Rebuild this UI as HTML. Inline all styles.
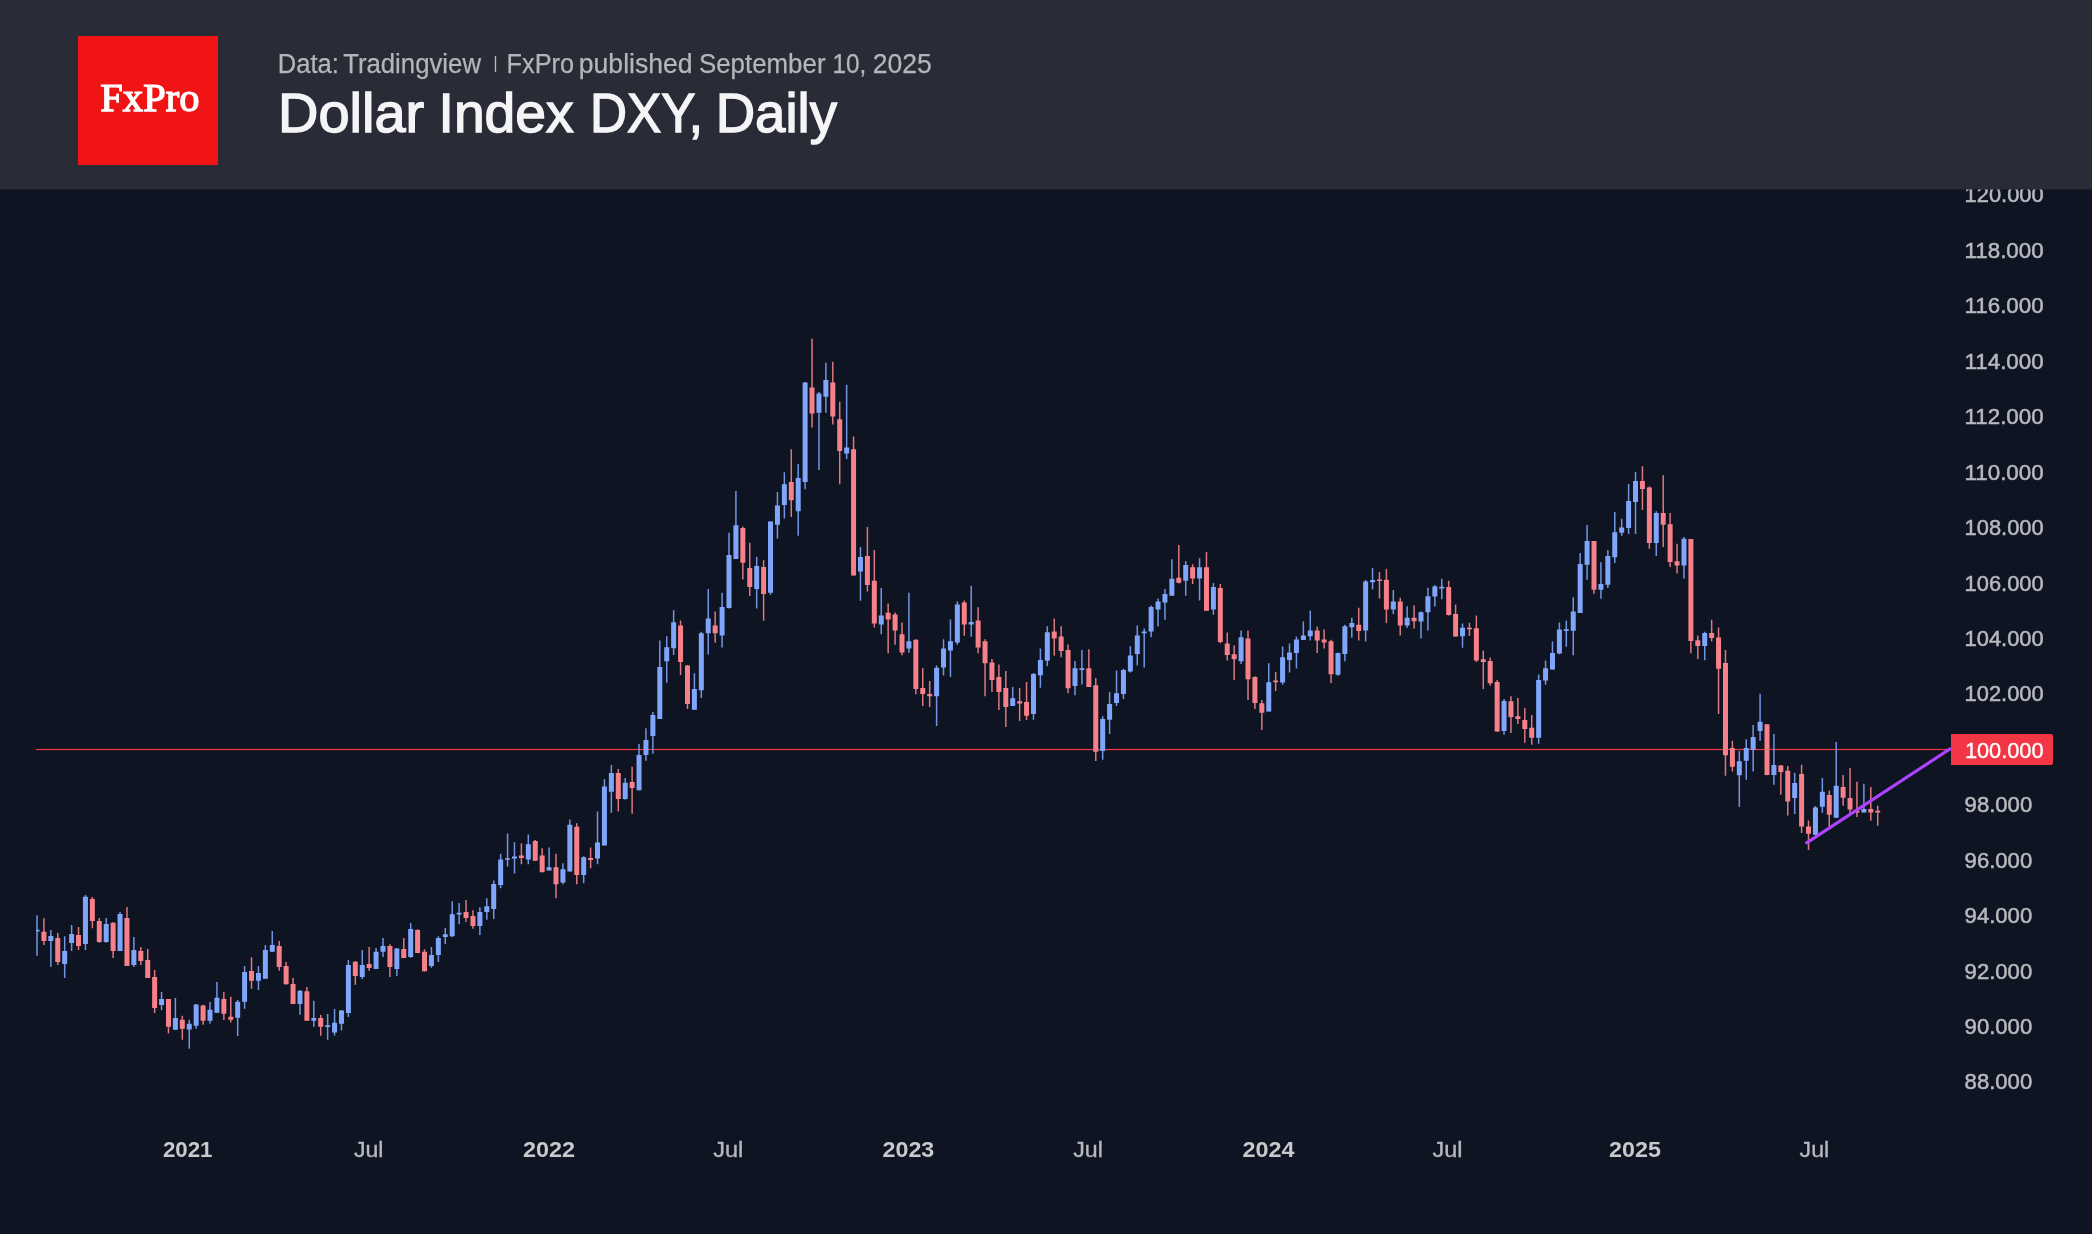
<!DOCTYPE html>
<html><head><meta charset="utf-8"><title>Dollar Index DXY, Daily</title>
<style>
html,body{margin:0;padding:0;background:#0e1421;}
body{width:2092px;height:1234px;overflow:hidden;position:relative;font-family:"Liberation Sans",sans-serif;}
svg{position:absolute;left:0;top:0;display:block;will-change:transform;}
</style></head><body>
<svg width="2092" height="1234" viewBox="0 0 2092 1234" font-family="Liberation Sans, sans-serif">
<defs><clipPath id="pane"><rect x="36" y="0" width="1915" height="1110"/></clipPath></defs>
<rect x="0" y="0" width="2092" height="1234" fill="#0e1421"/>
<g clip-path="url(#pane)">
<rect x="36" y="748.9" width="1915" height="1.2" fill="#f23645"/>
<path fill="#7195e4" d="M36.25 915.2h1.5V955.8h-1.5ZM50.09 930.0h1.5V967.1h-1.5ZM63.93 936.2h1.5V978.0h-1.5ZM70.85 925.0h1.5V951.0h-1.5ZM84.69 895.0h1.5V950.0h-1.5ZM105.45 918.0h1.5V942.7h-1.5ZM119.29 912.0h1.5V951.0h-1.5ZM133.13 937.0h1.5V967.0h-1.5ZM160.81 992.0h1.5V1010.0h-1.5ZM174.65 998.0h1.5V1029.8h-1.5ZM188.49 1019.7h1.5V1048.8h-1.5ZM195.41 1004.0h1.5V1028.7h-1.5ZM209.25 1001.9h1.5V1023.7h-1.5ZM216.17 982.0h1.5V1012.8h-1.5ZM236.93 1000.0h1.5V1036.0h-1.5ZM243.85 966.1h1.5V1008.7h-1.5ZM257.69 966.1h1.5V990.0h-1.5ZM264.61 945.0h1.5V978.8h-1.5ZM271.53 931.1h1.5V951.8h-1.5ZM299.21 990.0h1.5V1014.8h-1.5ZM313.05 1000.8h1.5V1026.7h-1.5ZM326.89 1014.0h1.5V1039.8h-1.5ZM333.81 1008.9h1.5V1035.4h-1.5ZM340.73 1009.9h1.5V1030.6h-1.5ZM347.65 960.0h1.5V1016.9h-1.5ZM361.49 950.0h1.5V978.9h-1.5ZM375.33 947.9h1.5V969.0h-1.5ZM382.25 938.0h1.5V956.9h-1.5ZM396.09 948.1h1.5V975.9h-1.5ZM409.93 923.0h1.5V957.8h-1.5ZM430.69 947.1h1.5V967.8h-1.5ZM437.61 936.2h1.5V962.0h-1.5ZM444.53 927.9h1.5V943.9h-1.5ZM451.45 901.2h1.5V936.9h-1.5ZM458.37 903.0h1.5V924.2h-1.5ZM479.13 907.2h1.5V935.0h-1.5ZM486.05 898.2h1.5V919.8h-1.5ZM492.97 880.4h1.5V918.9h-1.5ZM499.89 853.7h1.5V888.3h-1.5ZM506.81 833.6h1.5V866.5h-1.5ZM513.73 842.3h1.5V873.4h-1.5ZM527.57 834.4h1.5V864.3h-1.5ZM548.33 847.4h1.5V870.5h-1.5ZM562.17 863.2h1.5V884.3h-1.5ZM569.09 819.4h1.5V871.6h-1.5ZM582.93 856.2h1.5V883.3h-1.5ZM596.77 811.4h1.5V864.3h-1.5ZM603.69 779.3h1.5V845.5h-1.5ZM610.61 765.0h1.5V812.8h-1.5ZM624.45 778.1h1.5V799.7h-1.5ZM638.29 744.1h1.5V790.2h-1.5ZM645.21 728.2h1.5V760.7h-1.5ZM652.13 711.9h1.5V753.8h-1.5ZM659.05 640.4h1.5V719.1h-1.5ZM665.97 636.3h1.5V682.8h-1.5ZM672.89 610.2h1.5V654.9h-1.5ZM693.65 673.3h1.5V709.8h-1.5ZM700.57 631.8h1.5V698.0h-1.5ZM707.49 589.0h1.5V654.4h-1.5ZM721.33 592.8h1.5V647.4h-1.5ZM728.25 532.8h1.5V608.6h-1.5ZM735.17 491.1h1.5V558.9h-1.5ZM755.93 556.8h1.5V608.6h-1.5ZM769.77 521.2h1.5V594.7h-1.5ZM776.69 492.1h1.5V538.5h-1.5ZM783.61 472.2h1.5V518.6h-1.5ZM797.45 464.1h1.5V535.7h-1.5ZM804.37 382.1h1.5V489.3h-1.5ZM818.21 391.9h1.5V470.0h-1.5ZM825.13 362.8h1.5V412.7h-1.5ZM845.89 384.7h1.5V459.1h-1.5ZM859.73 546.9h1.5V600.8h-1.5ZM880.49 588.0h1.5V634.2h-1.5ZM908.17 592.7h1.5V652.7h-1.5ZM935.85 665.5h1.5V726.0h-1.5ZM942.77 639.3h1.5V675.5h-1.5ZM949.69 619.6h1.5V677.0h-1.5ZM956.61 601.6h1.5V644.7h-1.5ZM970.45 585.7h1.5V636.7h-1.5ZM1011.97 687.0h1.5V706.0h-1.5ZM1032.73 673.1h1.5V719.8h-1.5ZM1039.65 648.5h1.5V687.8h-1.5ZM1046.57 626.2h1.5V666.2h-1.5ZM1074.25 661.1h1.5V695.2h-1.5ZM1081.17 650.0h1.5V684.4h-1.5ZM1101.93 716.3h1.5V759.8h-1.5ZM1108.85 692.1h1.5V734.0h-1.5ZM1115.77 670.4h1.5V706.0h-1.5ZM1122.69 668.8h1.5V698.9h-1.5ZM1129.61 646.2h1.5V672.4h-1.5ZM1136.53 625.4h1.5V665.5h-1.5ZM1143.45 628.5h1.5V667.5h-1.5ZM1150.37 605.4h1.5V637.3h-1.5ZM1157.29 598.5h1.5V626.5h-1.5ZM1164.21 589.0h1.5V619.8h-1.5ZM1171.13 559.2h1.5V595.7h-1.5ZM1184.97 561.1h1.5V595.7h-1.5ZM1198.81 558.2h1.5V600.5h-1.5ZM1212.65 583.1h1.5V614.7h-1.5ZM1240.33 630.4h1.5V663.9h-1.5ZM1268.01 663.2h1.5V711.5h-1.5ZM1281.85 646.5h1.5V684.7h-1.5ZM1288.77 643.4h1.5V672.4h-1.5ZM1295.69 636.5h1.5V668.5h-1.5ZM1302.61 621.6h1.5V640.1h-1.5ZM1309.53 610.5h1.5V640.4h-1.5ZM1337.21 652.4h1.5V675.8h-1.5ZM1344.13 624.7h1.5V661.3h-1.5ZM1351.05 617.7h1.5V637.8h-1.5ZM1364.89 580.0h1.5V641.6h-1.5ZM1371.81 568.0h1.5V589.6h-1.5ZM1392.57 590.0h1.5V613.9h-1.5ZM1406.41 606.2h1.5V627.7h-1.5ZM1420.25 611.6h1.5V638.5h-1.5ZM1427.17 587.7h1.5V630.4h-1.5ZM1434.09 585.1h1.5V606.6h-1.5ZM1441.01 578.8h1.5V599.3h-1.5ZM1461.77 623.6h1.5V647.8h-1.5ZM1503.29 699.0h1.5V734.7h-1.5ZM1537.89 674.4h1.5V743.7h-1.5ZM1544.81 660.5h1.5V684.7h-1.5ZM1551.73 641.5h1.5V669.5h-1.5ZM1558.65 622.6h1.5V654.3h-1.5ZM1565.57 620.5h1.5V646.8h-1.5ZM1572.49 597.3h1.5V655.2h-1.5ZM1579.41 553.1h1.5V613.0h-1.5ZM1586.33 525.1h1.5V579.8h-1.5ZM1600.17 562.2h1.5V598.7h-1.5ZM1607.09 550.0h1.5V588.0h-1.5ZM1614.01 512.1h1.5V563.0h-1.5ZM1620.93 518.8h1.5V535.8h-1.5ZM1627.85 484.1h1.5V534.0h-1.5ZM1634.77 472.1h1.5V534.0h-1.5ZM1655.53 511.3h1.5V555.9h-1.5ZM1683.21 537.0h1.5V578.5h-1.5ZM1703.97 631.8h1.5V660.3h-1.5ZM1738.57 751.0h1.5V806.9h-1.5ZM1745.49 739.3h1.5V779.7h-1.5ZM1752.41 725.0h1.5V771.6h-1.5ZM1759.33 693.8h1.5V740.8h-1.5ZM1773.17 734.0h1.5V784.7h-1.5ZM1793.93 772.8h1.5V813.9h-1.5ZM1814.69 806.0h1.5V835.2h-1.5ZM1821.61 777.9h1.5V812.8h-1.5ZM1835.45 742.1h1.5V818.1h-1.5ZM1863.13 783.8h1.5V812.5h-1.5Z"/>
<path fill="#db7880" d="M43.17 918.2h1.5V944.9h-1.5ZM57.01 933.0h1.5V964.9h-1.5ZM77.77 927.0h1.5V950.0h-1.5ZM91.61 897.0h1.5V928.2h-1.5ZM98.53 918.0h1.5V942.7h-1.5ZM112.37 922.3h1.5V958.0h-1.5ZM126.21 907.0h1.5V966.0h-1.5ZM140.05 947.0h1.5V965.0h-1.5ZM146.97 949.0h1.5V978.0h-1.5ZM153.89 970.0h1.5V1013.0h-1.5ZM167.73 999.0h1.5V1033.5h-1.5ZM181.57 1015.7h1.5V1039.8h-1.5ZM202.33 1004.8h1.5V1024.8h-1.5ZM223.09 991.9h1.5V1020.0h-1.5ZM230.01 996.7h1.5V1022.6h-1.5ZM250.77 957.2h1.5V988.7h-1.5ZM278.45 941.1h1.5V970.8h-1.5ZM285.37 962.0h1.5V984.6h-1.5ZM292.29 978.0h1.5V1003.9h-1.5ZM306.13 987.1h1.5V1020.8h-1.5ZM319.97 1015.0h1.5V1035.8h-1.5ZM354.57 961.0h1.5V984.8h-1.5ZM368.41 947.1h1.5V970.8h-1.5ZM389.17 944.2h1.5V977.0h-1.5ZM403.01 938.0h1.5V958.0h-1.5ZM416.85 929.2h1.5V953.0h-1.5ZM423.77 949.3h1.5V971.6h-1.5ZM465.29 900.1h1.5V921.8h-1.5ZM472.21 910.2h1.5V928.8h-1.5ZM520.65 843.2h1.5V864.3h-1.5ZM534.49 840.1h1.5V860.7h-1.5ZM541.41 848.3h1.5V872.2h-1.5ZM555.25 853.7h1.5V898.2h-1.5ZM576.01 823.3h1.5V884.3h-1.5ZM589.85 847.4h1.5V868.3h-1.5ZM617.53 769.0h1.5V811.5h-1.5ZM631.37 766.8h1.5V813.7h-1.5ZM679.81 620.4h1.5V674.9h-1.5ZM686.73 664.9h1.5V709.1h-1.5ZM714.41 611.6h1.5V642.8h-1.5ZM742.09 526.5h1.5V579.6h-1.5ZM749.01 542.7h1.5V596.0h-1.5ZM762.85 560.2h1.5V620.7h-1.5ZM790.53 449.3h1.5V517.1h-1.5ZM811.29 338.8h1.5V427.4h-1.5ZM832.05 361.7h1.5V424.5h-1.5ZM838.97 401.8h1.5V484.3h-1.5ZM852.81 436.6h1.5V575.5h-1.5ZM866.65 527.0h1.5V591.6h-1.5ZM873.57 550.0h1.5V627.5h-1.5ZM887.41 603.6h1.5V653.2h-1.5ZM894.33 612.4h1.5V644.7h-1.5ZM901.25 622.4h1.5V655.2h-1.5ZM915.09 639.3h1.5V694.3h-1.5ZM922.01 668.1h1.5V706.0h-1.5ZM928.93 680.9h1.5V707.0h-1.5ZM963.53 600.5h1.5V635.8h-1.5ZM977.37 607.3h1.5V653.2h-1.5ZM984.29 639.3h1.5V696.3h-1.5ZM991.21 659.0h1.5V692.1h-1.5ZM998.13 664.4h1.5V710.1h-1.5ZM1005.05 671.1h1.5V727.0h-1.5ZM1018.89 688.1h1.5V720.9h-1.5ZM1025.81 681.9h1.5V720.1h-1.5ZM1053.49 618.5h1.5V655.4h-1.5ZM1060.41 626.2h1.5V657.3h-1.5ZM1067.33 644.4h1.5V693.2h-1.5ZM1088.09 649.3h1.5V687.0h-1.5ZM1095.01 678.1h1.5V760.9h-1.5ZM1178.05 544.9h1.5V583.6h-1.5ZM1191.89 564.2h1.5V583.9h-1.5ZM1205.73 552.0h1.5V611.1h-1.5ZM1219.57 583.9h1.5V643.2h-1.5ZM1226.49 632.4h1.5V660.4h-1.5ZM1233.41 645.5h1.5V680.1h-1.5ZM1247.25 630.4h1.5V700.1h-1.5ZM1254.17 676.3h1.5V709.0h-1.5ZM1261.09 700.1h1.5V730.0h-1.5ZM1274.93 672.1h1.5V690.9h-1.5ZM1316.45 626.5h1.5V653.1h-1.5ZM1323.37 629.6h1.5V648.5h-1.5ZM1330.29 639.8h1.5V682.9h-1.5ZM1357.97 607.7h1.5V640.4h-1.5ZM1378.73 572.0h1.5V598.5h-1.5ZM1385.65 568.9h1.5V623.1h-1.5ZM1399.49 597.7h1.5V635.4h-1.5ZM1413.33 605.4h1.5V628.5h-1.5ZM1447.93 580.8h1.5V615.4h-1.5ZM1454.85 604.6h1.5V636.5h-1.5ZM1468.69 622.7h1.5V635.9h-1.5ZM1475.61 615.4h1.5V662.1h-1.5ZM1482.53 650.4h1.5V688.9h-1.5ZM1489.45 657.5h1.5V685.8h-1.5ZM1496.37 680.1h1.5V731.7h-1.5ZM1510.21 696.3h1.5V732.9h-1.5ZM1517.13 698.1h1.5V724.0h-1.5ZM1524.05 708.1h1.5V742.8h-1.5ZM1530.97 715.0h1.5V744.8h-1.5ZM1593.25 541.1h1.5V593.7h-1.5ZM1641.69 466.2h1.5V509.9h-1.5ZM1648.61 486.4h1.5V548.8h-1.5ZM1662.45 475.2h1.5V547.0h-1.5ZM1669.37 513.0h1.5V567.0h-1.5ZM1676.29 543.8h1.5V573.6h-1.5ZM1690.13 539.0h1.5V653.2h-1.5ZM1697.05 635.5h1.5V659.1h-1.5ZM1710.89 619.7h1.5V641.6h-1.5ZM1717.81 627.5h1.5V714.0h-1.5ZM1724.73 650.1h1.5V775.8h-1.5ZM1731.65 740.8h1.5V771.6h-1.5ZM1766.25 724.2h1.5V775.3h-1.5ZM1780.09 765.1h1.5V794.8h-1.5ZM1787.01 766.0h1.5V815.6h-1.5ZM1800.85 764.8h1.5V832.9h-1.5ZM1807.77 820.4h1.5V849.9h-1.5ZM1828.53 790.6h1.5V829.5h-1.5ZM1842.37 775.0h1.5V805.7h-1.5ZM1849.29 767.9h1.5V814.2h-1.5ZM1856.21 781.8h1.5V817.0h-1.5ZM1870.05 786.9h1.5V820.7h-1.5ZM1876.97 805.7h1.5V825.7h-1.5Z"/>
<path fill="#80a6fb" d="M34.50 929.8h5.0v1.6h-5.0ZM48.34 935.9h5.0v5.1h-5.0ZM62.18 951.0h5.0v12.9h-5.0ZM69.10 934.0h5.0v9.0h-5.0ZM82.94 896.8h5.0v47.1h-5.0ZM103.70 924.0h5.0v18.0h-5.0ZM117.54 914.0h5.0v37.0h-5.0ZM131.38 950.0h5.0v15.0h-5.0ZM159.06 999.0h5.0v6.0h-5.0ZM172.90 1018.0h5.0v11.8h-5.0ZM186.74 1023.7h5.0v5.9h-5.0ZM193.66 1004.6h5.0v21.2h-5.0ZM207.50 1009.7h5.0v11.1h-5.0ZM214.42 997.8h5.0v15.0h-5.0ZM235.18 1001.7h5.0v16.1h-5.0ZM242.10 971.9h5.0v29.8h-5.0ZM255.94 973.0h5.0v7.7h-5.0ZM262.86 949.9h5.0v28.9h-5.0ZM269.78 945.0h5.0v6.8h-5.0ZM297.46 990.8h5.0v13.1h-5.0ZM311.30 1017.9h5.0v2.9h-5.0ZM325.14 1025.3h5.0v1.6h-5.0ZM332.06 1022.7h5.0v9.8h-5.0ZM338.98 1010.6h5.0v13.1h-5.0ZM345.90 965.0h5.0v48.1h-5.0ZM359.74 965.0h5.0v12.0h-5.0ZM373.58 951.8h5.0v17.2h-5.0ZM380.50 946.0h5.0v5.8h-5.0ZM394.34 948.6h5.0v20.4h-5.0ZM408.18 928.9h5.0v28.1h-5.0ZM428.94 955.1h5.0v11.0h-5.0ZM435.86 937.9h5.0v17.2h-5.0ZM442.78 934.3h5.0v2.6h-5.0ZM449.70 914.3h5.0v21.9h-5.0ZM456.62 912.8h5.0v1.6h-5.0ZM477.38 912.0h5.0v13.9h-5.0ZM484.30 906.2h5.0v5.8h-5.0ZM491.22 883.9h5.0v25.2h-5.0ZM498.14 859.5h5.0v25.6h-5.0ZM505.06 858.2h5.0v1.6h-5.0ZM511.98 856.6h5.0v1.8h-5.0ZM525.82 844.2h5.0v15.3h-5.0ZM546.58 867.3h5.0v3.2h-5.0ZM560.42 869.3h5.0v13.1h-5.0ZM567.34 824.8h5.0v46.8h-5.0ZM581.18 857.3h5.0v17.8h-5.0ZM595.02 842.5h5.0v16.0h-5.0ZM601.94 786.5h5.0v59.0h-5.0ZM608.86 772.9h5.0v18.8h-5.0ZM622.70 782.7h5.0v16.3h-5.0ZM636.54 755.0h5.0v35.2h-5.0ZM643.46 740.0h5.0v15.0h-5.0ZM650.38 715.0h5.0v21.1h-5.0ZM657.30 666.9h5.0v52.2h-5.0ZM664.22 647.2h5.0v14.1h-5.0ZM671.14 622.2h5.0v26.1h-5.0ZM691.90 689.1h5.0v20.7h-5.0ZM698.82 633.3h5.0v56.9h-5.0ZM705.74 618.5h5.0v14.8h-5.0ZM719.58 607.0h5.0v28.4h-5.0ZM726.50 554.9h5.0v53.1h-5.0ZM733.42 525.2h5.0v33.7h-5.0ZM754.18 565.9h5.0v23.1h-5.0ZM768.02 521.6h5.0v71.2h-5.0ZM774.94 505.4h5.0v19.4h-5.0ZM781.86 484.3h5.0v20.7h-5.0ZM795.70 478.1h5.0v33.1h-5.0ZM802.62 382.5h5.0v99.6h-5.0ZM816.46 393.5h5.0v19.2h-5.0ZM823.38 379.9h5.0v16.8h-5.0ZM844.14 447.5h5.0v6.1h-5.0ZM857.98 556.9h5.0v14.7h-5.0ZM878.74 615.4h5.0v9.0h-5.0ZM906.42 641.3h5.0v7.2h-5.0ZM934.10 667.8h5.0v28.5h-5.0ZM941.02 648.5h5.0v19.0h-5.0ZM947.94 641.3h5.0v9.1h-5.0ZM954.86 604.4h5.0v38.0h-5.0ZM968.70 621.9h5.0v2.5h-5.0ZM1010.22 698.2h5.0v7.8h-5.0ZM1030.98 673.9h5.0v40.0h-5.0ZM1037.90 660.1h5.0v15.1h-5.0ZM1044.82 632.3h5.0v28.5h-5.0ZM1072.50 668.2h5.0v17.7h-5.0ZM1079.42 668.2h5.0v1.9h-5.0ZM1100.18 719.0h5.0v31.9h-5.0ZM1107.10 703.9h5.0v15.9h-5.0ZM1114.02 693.2h5.0v9.7h-5.0ZM1120.94 670.1h5.0v23.9h-5.0ZM1127.86 655.4h5.0v16.2h-5.0ZM1134.78 635.4h5.0v18.6h-5.0ZM1141.70 631.6h5.0v1.6h-5.0ZM1148.62 607.0h5.0v24.6h-5.0ZM1155.54 601.6h5.0v8.0h-5.0ZM1162.46 593.9h5.0v8.5h-5.0ZM1169.38 578.8h5.0v16.9h-5.0ZM1183.22 564.9h5.0v15.9h-5.0ZM1197.06 567.3h5.0v11.2h-5.0ZM1210.90 587.0h5.0v22.6h-5.0ZM1238.58 637.3h5.0v24.0h-5.0ZM1266.26 682.2h5.0v29.3h-5.0ZM1280.10 657.3h5.0v25.1h-5.0ZM1287.02 652.4h5.0v7.7h-5.0ZM1293.94 639.6h5.0v13.5h-5.0ZM1300.86 635.4h5.0v4.7h-5.0ZM1307.78 630.5h5.0v5.7h-5.0ZM1335.46 653.1h5.0v21.6h-5.0ZM1342.38 626.2h5.0v27.7h-5.0ZM1349.30 623.1h5.0v4.2h-5.0ZM1363.14 581.6h5.0v48.9h-5.0ZM1370.06 580.0h5.0v2.3h-5.0ZM1390.82 601.6h5.0v8.0h-5.0ZM1404.66 617.7h5.0v7.7h-5.0ZM1418.50 612.3h5.0v9.3h-5.0ZM1425.42 596.2h5.0v16.1h-5.0ZM1432.34 586.6h5.0v9.9h-5.0ZM1439.26 586.8h5.0v1.6h-5.0ZM1460.02 627.7h5.0v8.5h-5.0ZM1501.54 700.9h5.0v30.0h-5.0ZM1536.14 680.1h5.0v57.7h-5.0ZM1543.06 668.2h5.0v12.3h-5.0ZM1549.98 652.9h5.0v16.6h-5.0ZM1556.90 629.4h5.0v24.0h-5.0ZM1563.82 629.3h5.0v1.6h-5.0ZM1570.74 611.5h5.0v19.3h-5.0ZM1577.66 563.9h5.0v49.1h-5.0ZM1584.58 541.1h5.0v23.7h-5.0ZM1598.42 583.9h5.0v5.9h-5.0ZM1605.34 555.9h5.0v28.9h-5.0ZM1612.26 532.2h5.0v25.0h-5.0ZM1619.18 527.4h5.0v5.3h-5.0ZM1626.10 501.0h5.0v27.1h-5.0ZM1633.02 481.0h5.0v20.9h-5.0ZM1653.78 513.0h5.0v29.9h-5.0ZM1681.46 538.7h5.0v26.9h-5.0ZM1702.22 633.1h5.0v12.9h-5.0ZM1736.82 761.2h5.0v14.1h-5.0ZM1743.74 748.1h5.0v12.6h-5.0ZM1750.66 737.1h5.0v12.7h-5.0ZM1757.58 721.8h5.0v9.2h-5.0ZM1771.42 765.0h5.0v10.0h-5.0ZM1792.18 783.0h5.0v15.1h-5.0ZM1812.94 807.6h5.0v27.2h-5.0ZM1819.86 791.7h5.0v15.1h-5.0ZM1833.70 785.8h5.0v32.0h-5.0ZM1861.38 809.1h5.0v3.4h-5.0Z"/>
<path fill="#f7818a" d="M41.42 931.8h5.0v9.2h-5.0ZM55.26 937.9h5.0v24.1h-5.0ZM76.02 935.0h5.0v11.0h-5.0ZM89.86 899.0h5.0v22.1h-5.0ZM96.78 920.9h5.0v21.1h-5.0ZM110.62 922.8h5.0v28.2h-5.0ZM124.46 918.0h5.0v48.0h-5.0ZM138.30 951.0h5.0v10.0h-5.0ZM145.22 960.0h5.0v18.0h-5.0ZM152.14 977.0h5.0v31.0h-5.0ZM165.98 999.0h5.0v27.7h-5.0ZM179.82 1019.7h5.0v9.0h-5.0ZM200.58 1005.4h5.0v15.4h-5.0ZM221.34 998.9h5.0v14.9h-5.0ZM228.26 1016.7h5.0v3.0h-5.0ZM249.02 971.0h5.0v9.7h-5.0ZM276.70 946.0h5.0v21.1h-5.0ZM283.62 966.0h5.0v18.3h-5.0ZM290.54 983.9h5.0v20.0h-5.0ZM304.38 991.2h5.0v29.6h-5.0ZM318.22 1017.9h5.0v8.8h-5.0ZM352.82 961.7h5.0v14.2h-5.0ZM366.66 963.9h5.0v4.1h-5.0ZM387.42 946.0h5.0v21.1h-5.0ZM401.26 949.0h5.0v9.0h-5.0ZM415.10 929.9h5.0v23.1h-5.0ZM422.02 951.8h5.0v19.4h-5.0ZM463.54 912.0h5.0v5.9h-5.0ZM470.46 916.0h5.0v9.9h-5.0ZM518.90 855.6h5.0v2.5h-5.0ZM532.74 841.0h5.0v19.7h-5.0ZM539.66 855.4h5.0v16.8h-5.0ZM553.50 867.3h5.0v17.0h-5.0ZM574.26 826.7h5.0v48.4h-5.0ZM588.10 858.1h5.0v1.9h-5.0ZM615.78 772.9h5.0v26.1h-5.0ZM629.62 782.0h5.0v5.9h-5.0ZM678.06 625.4h5.0v36.5h-5.0ZM684.98 665.5h5.0v38.4h-5.0ZM712.66 625.5h5.0v7.8h-5.0ZM740.34 527.9h5.0v34.8h-5.0ZM747.26 568.0h5.0v18.9h-5.0ZM761.10 566.9h5.0v27.0h-5.0ZM788.78 482.1h5.0v18.1h-5.0ZM809.54 387.5h5.0v26.1h-5.0ZM830.30 382.5h5.0v33.9h-5.0ZM837.22 419.3h5.0v31.7h-5.0ZM851.06 449.3h5.0v126.2h-5.0ZM864.90 555.9h5.0v29.1h-5.0ZM871.82 580.8h5.0v42.8h-5.0ZM885.66 612.7h5.0v6.9h-5.0ZM892.58 614.4h5.0v16.0h-5.0ZM899.50 634.2h5.0v18.2h-5.0ZM913.34 639.8h5.0v49.2h-5.0ZM920.26 688.1h5.0v5.9h-5.0ZM927.18 694.0h5.0v2.3h-5.0ZM961.78 602.4h5.0v22.0h-5.0ZM975.62 620.5h5.0v27.0h-5.0ZM982.54 641.3h5.0v21.9h-5.0ZM989.46 662.4h5.0v17.7h-5.0ZM996.38 677.0h5.0v15.1h-5.0ZM1003.30 688.1h5.0v18.9h-5.0ZM1017.14 701.3h5.0v2.3h-5.0ZM1024.06 702.1h5.0v13.7h-5.0ZM1051.74 631.6h5.0v6.9h-5.0ZM1058.66 636.5h5.0v14.6h-5.0ZM1065.58 650.0h5.0v38.2h-5.0ZM1086.34 668.2h5.0v18.8h-5.0ZM1093.26 685.2h5.0v66.5h-5.0ZM1176.30 577.7h5.0v5.1h-5.0ZM1190.14 567.3h5.0v11.2h-5.0ZM1203.98 567.3h5.0v43.5h-5.0ZM1217.82 588.0h5.0v53.9h-5.0ZM1224.74 643.5h5.0v11.5h-5.0ZM1231.66 654.2h5.0v5.1h-5.0ZM1245.50 638.5h5.0v40.8h-5.0ZM1252.42 677.0h5.0v25.9h-5.0ZM1259.34 703.2h5.0v9.5h-5.0ZM1273.18 680.6h5.0v1.6h-5.0ZM1314.70 630.5h5.0v9.9h-5.0ZM1321.62 639.6h5.0v2.8h-5.0ZM1328.54 641.3h5.0v32.9h-5.0ZM1356.22 624.7h5.0v6.4h-5.0ZM1376.98 579.5h5.0v1.6h-5.0ZM1383.90 579.7h5.0v29.9h-5.0ZM1397.74 601.6h5.0v23.8h-5.0ZM1411.58 617.7h5.0v3.6h-5.0ZM1446.18 586.9h5.0v28.1h-5.0ZM1453.10 613.9h5.0v22.6h-5.0ZM1466.94 627.7h5.0v1.6h-5.0ZM1473.86 628.2h5.0v32.3h-5.0ZM1480.78 659.3h5.0v2.8h-5.0ZM1487.70 661.1h5.0v22.1h-5.0ZM1494.62 682.1h5.0v49.3h-5.0ZM1508.46 701.2h5.0v15.8h-5.0ZM1515.38 716.3h5.0v2.7h-5.0ZM1522.30 720.1h5.0v8.8h-5.0ZM1529.22 727.8h5.0v10.0h-5.0ZM1591.50 541.1h5.0v48.7h-5.0ZM1639.94 481.0h5.0v7.9h-5.0ZM1646.86 487.6h5.0v55.3h-5.0ZM1660.70 513.0h5.0v11.7h-5.0ZM1667.62 524.2h5.0v37.8h-5.0ZM1674.54 561.2h5.0v4.4h-5.0ZM1688.38 539.0h5.0v102.1h-5.0ZM1695.30 640.3h5.0v5.7h-5.0ZM1709.14 633.1h5.0v4.8h-5.0ZM1716.06 637.4h5.0v31.4h-5.0ZM1722.98 663.0h5.0v92.3h-5.0ZM1729.90 748.1h5.0v18.7h-5.0ZM1764.50 724.2h5.0v50.8h-5.0ZM1778.34 765.6h5.0v6.4h-5.0ZM1785.26 770.8h5.0v30.8h-5.0ZM1799.10 773.9h5.0v52.7h-5.0ZM1806.02 826.6h5.0v7.1h-5.0ZM1826.78 794.9h5.0v19.8h-5.0ZM1840.62 786.9h5.0v10.8h-5.0ZM1847.54 798.1h5.0v11.5h-5.0ZM1854.46 810.8h5.0v1.7h-5.0ZM1868.30 809.1h5.0v3.4h-5.0ZM1875.22 810.8h5.0v1.7h-5.0Z"/>

<line x1="1806.6" y1="842.9" x2="1950" y2="748.9" stroke="#ad42ff" stroke-width="3.1" stroke-linecap="round"/>
</g>
<g font-size="21.6" fill="#b8b9bf" stroke="#b8b9bf" stroke-width="0.5"><text x="1964.6" y="1089.4" textLength="67.6" lengthAdjust="spacingAndGlyphs">88.000</text><text x="1964.6" y="1034.0" textLength="67.6" lengthAdjust="spacingAndGlyphs">90.000</text><text x="1964.6" y="978.6" textLength="67.6" lengthAdjust="spacingAndGlyphs">92.000</text><text x="1964.6" y="923.1" textLength="67.6" lengthAdjust="spacingAndGlyphs">94.000</text><text x="1964.6" y="867.7" textLength="67.6" lengthAdjust="spacingAndGlyphs">96.000</text><text x="1964.6" y="812.2" textLength="67.6" lengthAdjust="spacingAndGlyphs">98.000</text><text x="1964.6" y="701.4" textLength="79.0" lengthAdjust="spacingAndGlyphs">102.000</text><text x="1964.6" y="645.9" textLength="79.0" lengthAdjust="spacingAndGlyphs">104.000</text><text x="1964.6" y="590.5" textLength="79.0" lengthAdjust="spacingAndGlyphs">106.000</text><text x="1964.6" y="535.0" textLength="79.0" lengthAdjust="spacingAndGlyphs">108.000</text><text x="1964.6" y="479.6" textLength="79.0" lengthAdjust="spacingAndGlyphs">110.000</text><text x="1964.6" y="424.2" textLength="79.0" lengthAdjust="spacingAndGlyphs">112.000</text><text x="1964.6" y="368.7" textLength="79.0" lengthAdjust="spacingAndGlyphs">114.000</text><text x="1964.6" y="313.3" textLength="79.0" lengthAdjust="spacingAndGlyphs">116.000</text><text x="1964.6" y="257.8" textLength="79.0" lengthAdjust="spacingAndGlyphs">118.000</text><text x="1964.6" y="202.4" textLength="79.0" lengthAdjust="spacingAndGlyphs">120.000</text></g>
<path d="M1951 734H2051a2 2 0 0 1 2 2V763a2 2 0 0 1 -2 2H1951Z" fill="#f23645"/>
<text x="1964.9" y="757.8" font-size="21.4" fill="#ffffff" stroke="#ffffff" stroke-width="0.35" textLength="78.6" lengthAdjust="spacingAndGlyphs">100.000</text>
<g font-size="22.4"><text x="162.9" y="1156.9" font-weight="bold" fill="#c9c9cc" textLength="49.6" lengthAdjust="spacingAndGlyphs">2021</text><text x="353.9" y="1156.9" fill="#b8b9bf" stroke="#b8b9bf" stroke-width="0.35" textLength="29.5" lengthAdjust="spacingAndGlyphs">Jul</text><text x="522.9" y="1156.9" font-weight="bold" fill="#c9c9cc" textLength="52.1" lengthAdjust="spacingAndGlyphs">2022</text><text x="713.2" y="1156.9" fill="#b8b9bf" stroke="#b8b9bf" stroke-width="0.35" textLength="30.0" lengthAdjust="spacingAndGlyphs">Jul</text><text x="882.6" y="1156.9" font-weight="bold" fill="#c9c9cc" textLength="51.7" lengthAdjust="spacingAndGlyphs">2023</text><text x="1073.2" y="1156.9" fill="#b8b9bf" stroke="#b8b9bf" stroke-width="0.35" textLength="29.6" lengthAdjust="spacingAndGlyphs">Jul</text><text x="1242.6" y="1156.9" font-weight="bold" fill="#c9c9cc" textLength="52.0" lengthAdjust="spacingAndGlyphs">2024</text><text x="1432.6" y="1156.9" fill="#b8b9bf" stroke="#b8b9bf" stroke-width="0.35" textLength="29.9" lengthAdjust="spacingAndGlyphs">Jul</text><text x="1609.1" y="1156.9" font-weight="bold" fill="#c9c9cc" textLength="51.9" lengthAdjust="spacingAndGlyphs">2025</text><text x="1799.6" y="1156.9" fill="#b8b9bf" stroke="#b8b9bf" stroke-width="0.35" textLength="29.6" lengthAdjust="spacingAndGlyphs">Jul</text></g>
<rect x="0" y="0" width="2092" height="189.5" fill="#292b37"/>
<rect x="78" y="36" width="140" height="129" fill="#f11414"/>
<text x="100.3" y="111.3" font-family="Liberation Serif, serif" font-size="39.4" fill="#ffffff" stroke="#ffffff" stroke-width="1.25" textLength="99.2" lengthAdjust="spacingAndGlyphs">FxPro</text>
<text x="277.80" y="72.9" font-size="27.0" fill="#b5b6ba" stroke="#b5b6ba" stroke-width="0.25" textLength="61.18" lengthAdjust="spacingAndGlyphs">Data:</text>
<text x="343.14" y="72.9" font-size="27.0" fill="#b5b6ba" stroke="#b5b6ba" stroke-width="0.25" textLength="137.87" lengthAdjust="spacingAndGlyphs">Tradingview</text>
<text x="506.61" y="72.9" font-size="27.0" fill="#b5b6ba" stroke="#b5b6ba" stroke-width="0.25" textLength="67.44" lengthAdjust="spacingAndGlyphs">FxPro</text>
<text x="578.81" y="72.9" font-size="27.0" fill="#b5b6ba" stroke="#b5b6ba" stroke-width="0.25" textLength="113.84" lengthAdjust="spacingAndGlyphs">published</text>
<text x="698.97" y="72.9" font-size="27.0" fill="#b5b6ba" stroke="#b5b6ba" stroke-width="0.25" textLength="126.54" lengthAdjust="spacingAndGlyphs">September</text>
<text x="832.41" y="72.9" font-size="27.0" fill="#b5b6ba" stroke="#b5b6ba" stroke-width="0.25" textLength="33.82" lengthAdjust="spacingAndGlyphs">10,</text>
<text x="872.71" y="72.9" font-size="27.0" fill="#b5b6ba" stroke="#b5b6ba" stroke-width="0.25" textLength="59.00" lengthAdjust="spacingAndGlyphs">2025</text>
<text x="278.00" y="131.8" font-size="56" fill="#f5f5f7" stroke="#f5f5f7" stroke-width="1.4" textLength="146.18" lengthAdjust="spacingAndGlyphs">Dollar</text>
<text x="438.54" y="131.8" font-size="56" fill="#f5f5f7" stroke="#f5f5f7" stroke-width="1.4" textLength="135.14" lengthAdjust="spacingAndGlyphs">Index</text>
<text x="590.03" y="131.8" font-size="56" fill="#f5f5f7" stroke="#f5f5f7" stroke-width="1.4" textLength="113.00" lengthAdjust="spacingAndGlyphs">DXY,</text>
<text x="715.70" y="131.8" font-size="56" fill="#f5f5f7" stroke="#f5f5f7" stroke-width="1.4" textLength="121.29" lengthAdjust="spacingAndGlyphs">Daily</text>

<rect x="494.85" y="55.8" width="1.3" height="16.2" rx="0.6" fill="#bcbdc1"/>
</svg>
</body></html>
